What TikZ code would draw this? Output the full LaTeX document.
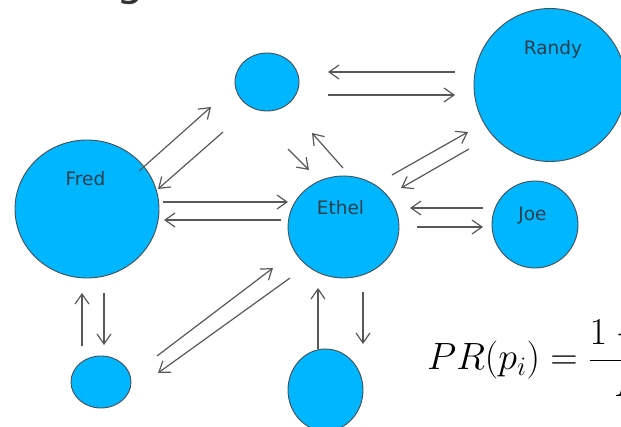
\RequirePackage{fix-cm}
\documentclass[tikz,border=0pt]{standalone}
\usepackage{fontspec}
\setsansfont{DejaVu Sans}
\newfontfamily\headfont{DejaVu Sans}
\usetikzlibrary{arrows.meta,shapes.geometric}

\definecolor{nodefill}{RGB}{0,182,255}
\definecolor{nodeedge}{RGB}{70,78,84}
\definecolor{linkgray}{RGB}{88,88,88}
\definecolor{labelink}{RGB}{44,62,74}
\definecolor{headink}{RGB}{51,51,51}

\tikzset{
  page/.style={ellipse, draw=nodeedge, fill=nodefill, line width=0.9pt, inner sep=0pt},
  pagename/.style={font=\sffamily\fontsize{18.5}{20}\selectfont, text=labelink,
    anchor=base, inner sep=0pt},
  link/.style={draw=linkgray, line width=1.2pt,
    -{Straight Barb[length=10pt,width=14pt]}}
}

\begin{document}
\begin{tikzpicture}[x=1pt,y=-1pt]
  \useasboundingbox (0,0) rectangle (621,427);
  \clip (0,0) rectangle (621,427);

  % heading, cut off by the top edge
  \node[anchor=base west, inner sep=0pt, text=headink,
        font=\headfont\fontsize{44}{46}\selectfont] (head) at (116,-4) {g};

  % pages
  \node[page, minimum width=144pt, minimum height=138pt] (fred)  at (87,209)  {};
  \node[page, minimum width=64pt,  minimum height=58pt]  (top)   at (267,82)  {};
  \node[page, minimum width=152pt, minimum height=153pt] (randy) at (550,85)  {};
  \node[page, minimum width=111pt, minimum height=102pt] (ethel) at (343.5,227) {};
  \node[page, minimum width=86pt,  minimum height=87pt]  (joe)   at (535,224.5) {};
  \node[page, minimum width=60pt,  minimum height=52pt]  (low)   at (101,382) {};
  \node[page, minimum width=75pt,  minimum height=82pt]  (base)  at (325.5,390) {};

  % page names
  \node[pagename] (fredname)  at (85.5,186) {Fred};
  \node[pagename] (randyname) at (553,55)   {Randy};
  \node[pagename] (ethelname) at (340.5,215) {Ethel};
  \node[pagename] (joename)   at (532.5,221) {Joe};

  % end points of the links
  \coordinate (l1s) at (455,72);  \coordinate (l1e) at (328,72);
  \coordinate (l2s) at (328,95);  \coordinate (l2e) at (455,95);
  \coordinate (l3s) at (139,171); \coordinate (l3e) at (211,107);
  \coordinate (l4s) at (223,132); \coordinate (l4e) at (158,189);
  \coordinate (l5s) at (288,149); \coordinate (l5e) at (309,170);
  \coordinate (l6s) at (343,168); \coordinate (l6e) at (312,133);
  \coordinate (l7s) at (392,175); \coordinate (l7e) at (468,132);
  \coordinate (l8s) at (469,149); \coordinate (l8e) at (401,188);
  \coordinate (l9s) at (163,202); \coordinate (l9e) at (288,202);
  \coordinate (l10s) at (281,220); \coordinate (l10e) at (164,220);
  \coordinate (l11s) at (483,208); \coordinate (l11e) at (410,208);
  \coordinate (l12s) at (417,227); \coordinate (l12e) at (483,227);
  \coordinate (l13s) at (82,346);  \coordinate (l13e) at (82,293);
  \coordinate (l14s) at (104,293); \coordinate (l14e) at (104,345);
  \coordinate (l15s) at (157,356); \coordinate (l15e) at (273,268);
  \coordinate (l16s) at (290,278); \coordinate (l16e) at (158,373);
  \coordinate (l17s) at (318,349); \coordinate (l17e) at (318,288);
  \coordinate (l18s) at (363,292); \coordinate (l18e) at (363,344);

  \foreach \k in {1,...,18}
    \draw[link] (l\k s) -- (l\k e);

  % PageRank formula, running off the right edge
  \node[anchor=base west, inner sep=0pt, font=\fontsize{38}{40}\selectfont] (formula)
    at (427,370)
    {$\displaystyle PR(p_i) = \frac{1-d}{N} + d \sum_{p_j \in M(p_i)} \frac{PR(p_j)}{L(p_j)}$};
\end{tikzpicture}
\end{document}
